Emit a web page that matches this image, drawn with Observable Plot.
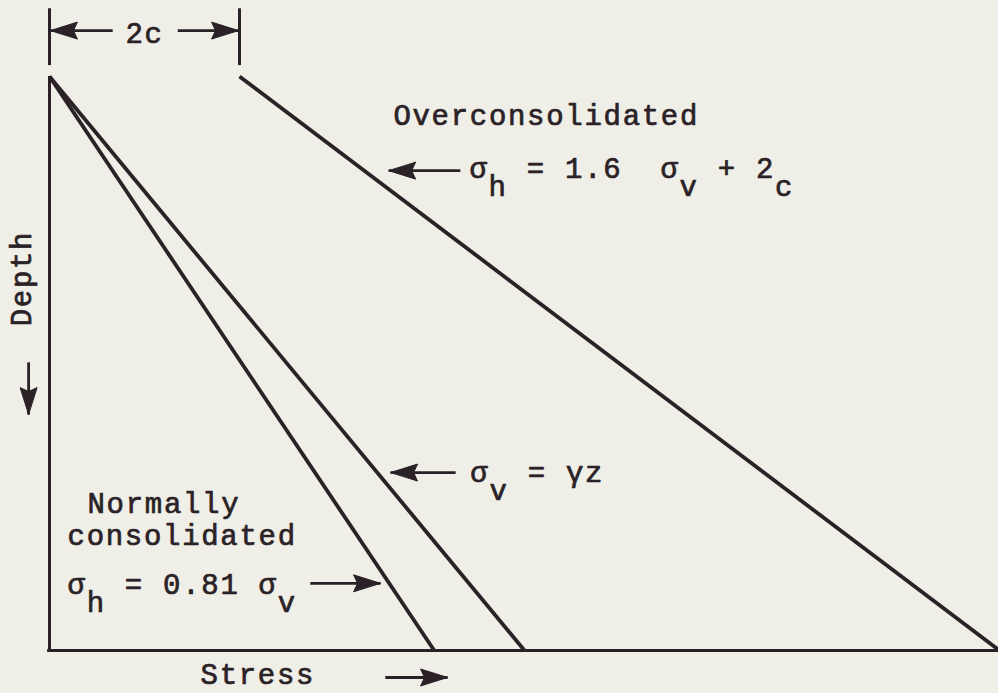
<!DOCTYPE html>
<html>
<head>
<meta charset="utf-8">
<script src="https://cdn.jsdelivr.net/npm/d3@7"></script>
<script src="https://cdn.jsdelivr.net/npm/@observablehq/plot@0.6"></script>
<style>
  html, body { margin: 0; padding: 0; background: #efefe7; }
  svg { display: block; }
</style>
</head>
<body>
<script>
// Stress profiles against normalized depth (0 = surface, 1 = base of the layer)
const depth = [0, 1];
const verticalStress = [0, 1];        // σv = γz
const normalHorizontal = [0, 0.81];   // σh = 0.81 σv
const overHorizontal = [0.4, 2.0];    // σh = 1.6 σv + 2c
const twoC = 0.4;                     // offset of the overconsolidated profile

const profileNames = ["normal", "vertical", "over"];
const profileStress = [normalHorizontal, verticalStress, overHorizontal];

const profiles = profileNames.flatMap((name, k) =>
  depth.map((d, i) => ({name, depth: d, stress: profileStress[k][i]}))
);

// Annotation layout, in stress / depth units
const labels = [
  {text: "Overconsolidated", x: 0.724, y: 0.085},
  {text: "σ_h = 1.6  σ_v + 2_c", x: 0.884, y: 0.176},
  {text: "σ_v = γz", x: 0.886, y: 0.707},
  {text: "Normally", x: 0.080, y: 0.760},
  {text: "consolidated", x: 0.038, y: 0.817},
  {text: "σ_h = 0.81 σ_v", x: 0.038, y: 0.902},
  {text: "Stress", x: 0.318, y: 1.059}
];
const arrows = [
  {x1: 0.865, y1: 0.164, x2: 0.714, y2: 0.164},
  {x1: 0.855, y1: 0.690, x2: 0.718, y2: 0.690},
  {x1: 0.549, y1: 0.883, x2: 0.697, y2: 0.883},
  {x1: 0.707, y1: 1.047, x2: 0.838, y2: 1.047},
  {x1: -0.044, y1: 0.498, x2: -0.044, y2: 0.589},
  {x1: 0.133, y1: -0.080, x2: 0.002, y2: -0.080},
  {x1: 0.270, y1: -0.080, x2: 0.398, y2: -0.080}
];

const ink = "#2a2226";
const font = "Liberation Mono, DejaVu Sans Mono, monospace";
const fontSize = 29;
const subShift = 18;

// Filled arrowhead with its tip at the anchor point, pointing along (ux, uy)
function head(ux, uy) {
  const px = -uy, py = ux;
  const pt = (a, b) => [a * ux + b * px, a * uy + b * py];
  return {
    draw(context) {
      const p1 = pt(-27, -8.5), p2 = pt(-23, 0), p3 = pt(-27, 8.5);
      context.moveTo(0, 0);
      context.lineTo(p1[0], p1[1]);
      context.lineTo(p2[0], p2[1]);
      context.lineTo(p3[0], p3[1]);
      context.closePath();
    }
  };
}
const dirOf = (a) => `${Math.sign(a.x2 - a.x1)},${Math.sign(a.y2 - a.y1)}`;
const headMarks = ["1,0", "-1,0", "0,1", "0,-1"].map(key => {
  const [ux, uy] = key.split(",").map(Number);
  return Plot.dot(arrows.filter(a => dirOf(a) === key), {
    x: "x2", y: "y2", symbol: head(ux, uy), r: 6, fill: ink, stroke: ink, strokeWidth: 1
  });
});

const textStyle = {fill: ink, stroke: ink, strokeWidth: 0.7, fontSize, fontFamily: font, lineAnchor: "bottom"};

const chart = Plot.plot({
  width: 998,
  height: 693,
  x: {domain: [0, 2], range: [49, 999], axis: null},
  y: {domain: [0, 1], range: [76, 650], axis: null},
  style: {background: "#efefe7", color: ink, fontFamily: font},
  marks: [
    // axes
    Plot.ruleX([0], {y1: 0, y2: 1, stroke: ink, strokeWidth: 3}),
    Plot.ruleY([1], {x1: -0.004, x2: 2, stroke: ink, strokeWidth: 3}),
    // stress profiles
    Plot.line(profiles, {x: "stress", y: "depth", z: "name", stroke: ink, strokeWidth: 3.8, strokeLinecap: "butt"}),
    // 2c dimension ticks
    Plot.ruleX([0, twoC], {y1: -0.118, y2: -0.019, stroke: ink, strokeWidth: 3}),
    // arrow shafts and heads
    Plot.link(arrows, {x1: "x1", y1: "y1", x2: "x2", y2: "y2", stroke: ink, strokeWidth: 2.8}),
    ...headMarks,
    // labels
    Plot.text(labels, {x: "x", y: "y", text: "text", textAnchor: "start", ...textStyle}),
    Plot.text(["2c"], {x: twoC / 2, y: -0.0575, text: d => d, textAnchor: "middle", ...textStyle}),
    Plot.text(["Depth"], {x: -0.038, y: 0.352, text: d => d, textAnchor: "middle", rotate: -90, ...textStyle})
  ]
});

chart.style.letterSpacing = "1.7px";

// Turn "a_b" into a lowered typewriter subscript b
d3.select(chart).selectAll("text").each(function () {
  this.setAttributeNS("http://www.w3.org/XML/1998/namespace", "xml:space", "preserve");
  this.style.whiteSpace = "pre";
  const s = this.textContent;
  if (!s.includes("_")) return;
  const sel = d3.select(this);
  this.textContent = "";
  let pending = 0;
  s.split(/(_.)/).forEach(part => {
    if (!part) return;
    if (part[0] === "_") {
      sel.append("tspan").attr("dy", pending + subShift).text(part[1]);
      pending = -subShift;
    } else {
      const t = sel.append("tspan").text(part);
      if (pending) t.attr("dy", pending);
      pending = 0;
    }
  });
});

document.body.appendChild(chart);
</script>
</body>
</html>
